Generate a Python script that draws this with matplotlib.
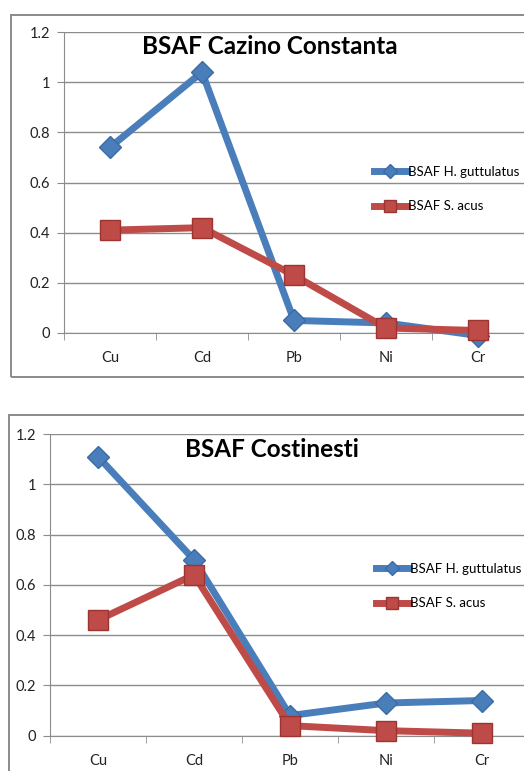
import matplotlib
matplotlib.use("Agg")
import matplotlib.pyplot as plt
from matplotlib.patches import Rectangle

plt.rcParams['font.family'] = ['Lato', 'DejaVu Sans']

categories = ["Cu", "Cd", "Pb", "Ni", "Cr"]
series_names = ["BSAF H. guttulatus", "BSAF S. acus"]

cazino_h = [0.74, 1.04, 0.05, 0.04, -0.01]
cazino_s = [0.41, 0.42, 0.23, 0.02, 0.01]
costinesti_h = [1.11, 0.70, 0.08, 0.13, 0.14]
costinesti_s = [0.46, 0.64, 0.04, 0.02, 0.01]

titles = ["BSAF Cazino Constanta", "BSAF Costinesti"]
yticks = [0, 0.2, 0.4, 0.6, 0.8, 1.0, 1.2]
ytick_labels = ["0", "0.2", "0.4", "0.6", "0.8", "1", "1.2"]

W, H = 524, 771
fig = plt.figure(figsize=(W / 100, H / 100), dpi=100)

BLUE = "#4a7ebb"
BLUE_E = "#3b6aa5"
RED = "#be4b48"
RED_E = "#9c3532"
GRID = "#8c8c8c"

def px_axes(left, top, right, bottom):
    return fig.add_axes([left / W, 1 - bottom / H, (right - left) / W, (bottom - top) / H])

# outer chart frames
fig.patches.append(Rectangle((10.5 / W, 1 - 377 / H), 520 / W, (377 - 14.5) / H,
                             transform=fig.transFigure, fill=False, edgecolor="#8a8a8a", lw=1.4))
fig.patches.append(Rectangle((8.5 / W, 1 - 790 / H), 520 / W, (790 - 415.5) / H,
                             transform=fig.transFigure, fill=False, edgecolor="#8a8a8a", lw=1.4))

configs = [
    dict(box=(64, 32, 524, 333), h=cazino_h, s=cazino_s, title=titles[0],
         title_xy=(270, 47), leg_xy=(374, 166)),
    dict(box=(50, 434, 530, 735.7), h=costinesti_h, s=costinesti_s, title=titles[1],
         title_xy=(272, 449), leg_xy=(376, 563)),
]

for cfg in configs:
    ax = px_axes(*cfg["box"])
    x = list(range(len(categories)))
    ax.plot(x, cfg["h"], color=BLUE, lw=5, marker="D", ms=11.5, mfc=BLUE, mec=BLUE_E,
            mew=1, clip_on=False, zorder=3, label=series_names[0], solid_joinstyle="round")
    ax.plot(x, cfg["s"], color=RED, lw=5, marker="s", ms=14.5, mfc=RED, mec=RED_E,
            mew=1, clip_on=False, zorder=4, label=series_names[1], solid_joinstyle="round")
    ax.set_xlim(-0.5, len(categories) - 0.5)
    ax.set_ylim(0, 1.2)
    ax.set_yticks(yticks)
    ax.set_yticklabels(ytick_labels)
    ax.yaxis.grid(True, color=GRID, lw=1)
    ax.set_axisbelow(True)
    ax.set_xticks(x)
    ax.set_xticklabels(categories)
    ax.set_xticks([i - 0.5 for i in range(len(categories) + 1)], minor=True)
    ax.tick_params(axis="x", which="major", length=0, pad=13, labelsize=10.5, colors="#222222")
    ax.tick_params(axis="x", which="minor", length=5, color=GRID, direction="out")
    ax.tick_params(axis="y", length=5, color=GRID, pad=5, labelsize=10.5, labelcolor="#222222")
    for sp in ["top", "right"]:
        ax.spines[sp].set_visible(False)
    ax.spines["left"].set_color(GRID)
    ax.spines["bottom"].set_color(GRID)
    ax.patch.set_alpha(0)
    tx, ty = cfg["title_xy"]
    fig.text(tx / W, 1 - ty / H, cfg["title"], ha="center", va="center",
             fontsize=17.5, fontweight="bold", color="black")
    lx, ly = cfg["leg_xy"]
    ax.legend(loc="upper left", bbox_to_anchor=(lx / W, 1 - ly / H),
              bbox_transform=fig.transFigure, frameon=False, fontsize=9.5,
              handlelength=2.5, handletextpad=0.05, labelspacing=1.7,
              borderpad=0, borderaxespad=0, markerscale=0.6)

fig.savefig("out.png", dpi=100)
